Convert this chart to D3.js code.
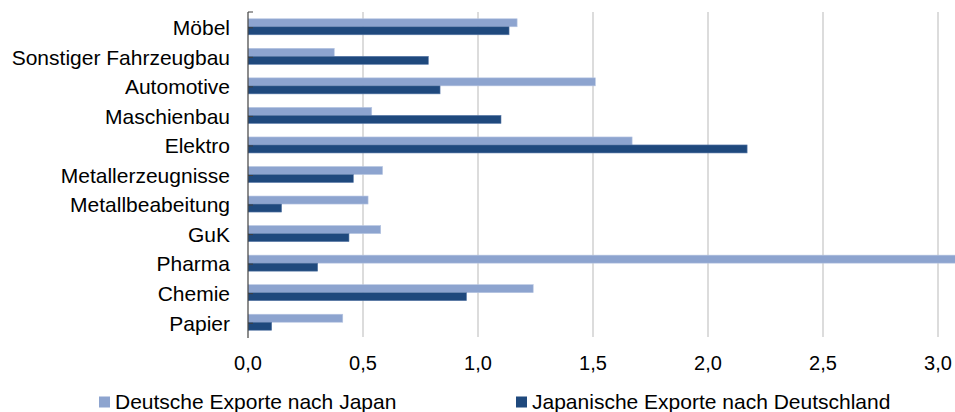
<!DOCTYPE html>
<html>
<head>
<meta charset="utf-8">
<script src="https://cdn.jsdelivr.net/npm/d3@7"></script>
<style>
  body { margin: 0; background: #fff; }
  text { font-family: "Liberation Sans", Arial, sans-serif; fill: #000; }
</style>
</head>
<body>
<div id="chart"></div>
<script>
// categories top to bottom
const categories = ["Möbel", "Sonstiger Fahrzeugbau", "Automotive", "Maschienbau", "Elektro ",
  "Metallerzeugnisse", "Metallbeabeitung", "GuK", "Pharma", "Chemie", "Papier"];
const deExports = [1.17, 0.375, 1.51, 0.538, 1.67, 0.585, 0.522, 0.577, 3.2, 1.24, 0.412];
const jpExports = [1.135, 0.784, 0.835, 1.10, 2.17, 0.458, 0.146, 0.439, 0.303, 0.95, 0.103];
const xTicks = [0, 0.5, 1, 1.5, 2, 2.5, 3];
const seriesNames = ["Deutsche Exporte nach Japan", "Japanische Exporte nach Deutschland"];
const colors = ["#8DA4CF", "#1F497D"];

const width = 955, height = 412;
const plot = {left: 248, right: 955, top: 12, bottom: 337};

let svg = d3.select('#chart')
  .append('svg')
  .attr('width', width)
  .attr('height', height);

let x = d3.scaleLinear().domain([0, 3]).range([plot.left, 938]);
let y = d3.scaleBand().domain(categories).range([plot.top, plot.bottom]);

svg.append("defs").append("clipPath")
  .attr("id", "plotclip")
  .append("rect")
  .attr("x", plot.left).attr("y", 0)
  .attr("width", plot.right - plot.left).attr("height", height);

// gridlines
svg.append("g")
  .selectAll("line")
  .data(xTicks.slice(1))
  .enter().append("line")
  .attr("x1", d => x(d)).attr("x2", d => x(d))
  .attr("y1", plot.top).attr("y2", plot.bottom)
  .attr("stroke", "#D0D0D0")
  .attr("stroke-width", 1.5);

const barH = 8;
let bars = svg.append("g").attr("clip-path", "url(#plotclip)");

bars.selectAll("rect.de")
  .data(categories)
  .enter().append("rect")
  .attr("class", "de")
  .attr("x", x(0))
  .attr("y", d => y(d) + y.bandwidth() / 2 - barH)
  .attr("width", (d, i) => x(deExports[i]) - x(0))
  .attr("height", barH)
  .attr("fill", colors[0])
  .attr("stroke", "#B7C6E2")
  .attr("stroke-width", 0.6);

bars.selectAll("rect.jp")
  .data(categories)
  .enter().append("rect")
  .attr("class", "jp")
  .attr("x", x(0))
  .attr("y", d => y(d) + y.bandwidth() / 2)
  .attr("width", (d, i) => x(jpExports[i]) - x(0))
  .attr("height", barH)
  .attr("fill", colors[1])
  .attr("stroke", "#5A7AA8")
  .attr("stroke-width", 0.6);

// category axis
svg.append("line")
  .attr("x1", plot.left).attr("x2", plot.left)
  .attr("y1", plot.top).attr("y2", plot.bottom + 1)
  .attr("stroke", "#404040")
  .attr("stroke-width", 1.2);

svg.append("line")
  .attr("x1", plot.left).attr("x2", plot.left + 5)
  .attr("y1", plot.top).attr("y2", plot.top)
  .attr("stroke", "#404040");

svg.append("g")
  .selectAll("line")
  .data(categories)
  .enter().append("line")
  .attr("x1", plot.left).attr("x2", plot.left + 5)
  .attr("y1", d => y(d) + y.bandwidth() / 2 + 1)
  .attr("y2", d => y(d) + y.bandwidth() / 2 + 1)
  .attr("stroke", "#404040");

svg.append("g")
  .selectAll("text")
  .data(categories)
  .enter().append("text")
  .attr("x", 230)
  .attr("y", d => y(d) + y.bandwidth() / 2 + 1)
  .attr("dy", "0.35em")
  .attr("text-anchor", "end")
  .style("font-size", "21px")
  .text(d => d);

// value axis labels
const fmt = d3.format(".1f");
svg.append("g")
  .selectAll("text")
  .data(xTicks)
  .enter().append("text")
  .attr("x", d => x(d))
  .attr("y", 363)
  .attr("dy", "0.35em")
  .attr("text-anchor", "middle")
  .style("font-size", "20px")
  .text(d => fmt(d).replace(".", ","));

// legend
const legendX = [99, 516];
let legend = svg.append("g")
  .selectAll("g")
  .data(seriesNames)
  .enter().append("g")
  .attr("transform", (d, i) => "translate(" + legendX[i] + ",402)");

legend.append("rect")
  .attr("x", 0).attr("y", -5.5)
  .attr("width", 11).attr("height", 11)
  .attr("fill", (d, i) => colors[i]);

legend.append("text")
  .attr("x", 16)
  .attr("dy", "0.35em")
  .style("font-size", "21px")
  .text(d => d);
</script>
</body>
</html>
